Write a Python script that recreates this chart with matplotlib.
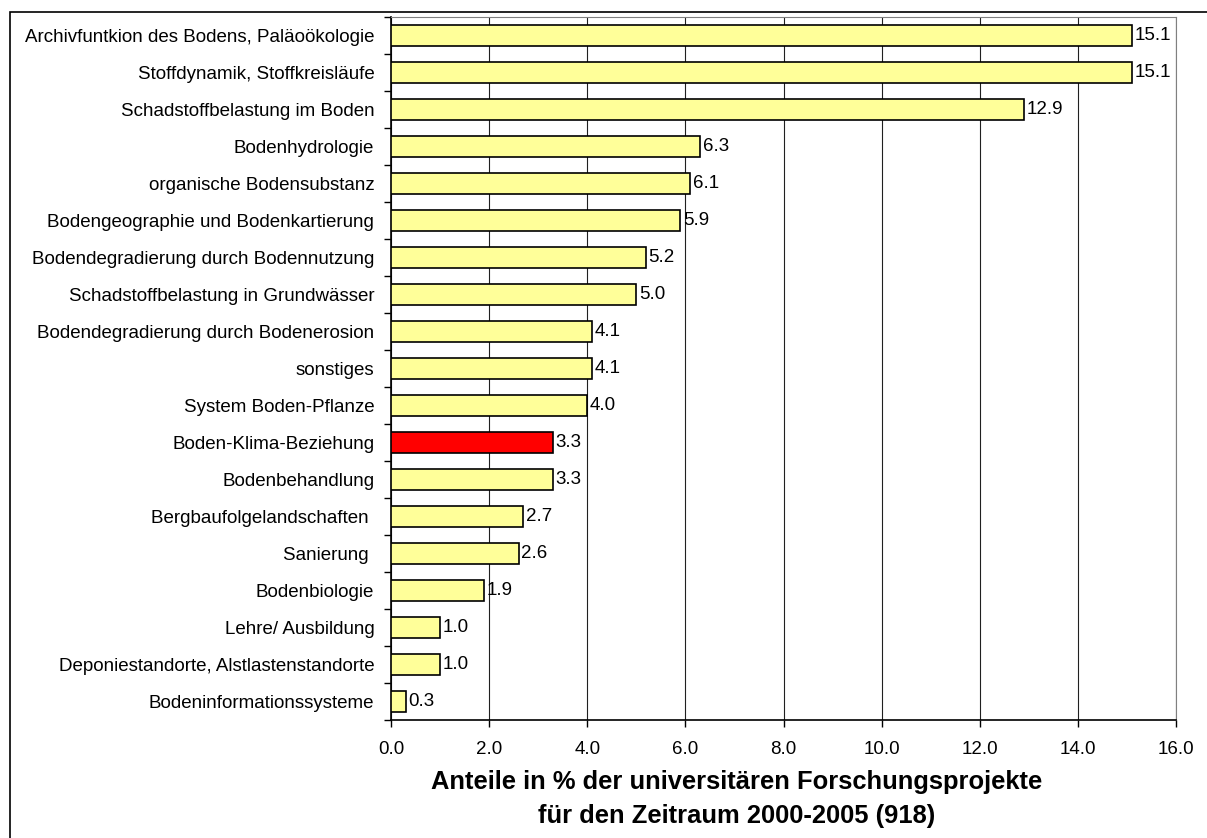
import matplotlib
matplotlib.use("Agg")
import matplotlib.pyplot as plt
from matplotlib.patches import Rectangle

plt.rcParams['font.family'] = ['Liberation Sans', 'DejaVu Sans']

themen = [
    "Archivfuntkion des Bodens, Paläoökologie",
    "Stoffdynamik, Stoffkreisläufe",
    "Schadstoffbelastung im Boden",
    "Bodenhydrologie",
    "organische Bodensubstanz",
    "Bodengeographie und Bodenkartierung",
    "Bodendegradierung durch Bodennutzung",
    "Schadstoffbelastung in Grundwässer",
    "Bodendegradierung durch Bodenerosion",
    "sonstiges",
    "System Boden-Pflanze",
    "Boden-Klima-Beziehung",
    "Bodenbehandlung",
    "Bergbaufolgelandschaften ",
    "Sanierung ",
    "Bodenbiologie",
    "Lehre/ Ausbildung",
    "Deponiestandorte, Alstlastenstandorte",
    "Bodeninformationssysteme",
]
anteile = [15.1, 15.1, 12.9, 6.3, 6.1, 5.9, 5.2, 5.0, 4.1, 4.1, 4.0, 3.3, 3.3, 2.7, 2.6, 1.9, 1.0, 1.0, 0.3]
hervorgehoben = "Boden-Klima-Beziehung"

fig = plt.figure(figsize=(12.07, 8.38), dpi=100)
ax = fig.add_axes([391 / 1207, 1 - 720 / 838, (1176 - 391) / 1207, (720 - 17) / 838])

farben = ['#ff0000' if t == hervorgehoben else '#ffff99' for t in themen]
pos = list(range(len(themen)))
ax.barh(pos, anteile, height=0.57, color=farben, edgecolor='black', linewidth=1.2, zorder=3)

for p, v in zip(pos, anteile):
    ax.text(v + 0.05, p, f"{v:.1f}", va='center', ha='left', fontsize=13.5, zorder=4)

ax.set_ylim(len(themen) - 0.5, -0.5)
ax.set_xlim(0, 16)
ax.set_xticks(range(0, 17, 2))
ax.set_xticklabels([f"{x:.1f}" for x in range(0, 17, 2)], fontsize=13.5)
ax.set_yticks([p - 0.5 for p in pos] + [len(themen) - 0.5])
ax.set_yticklabels([])
ax.set_yticks(pos, minor=True)
ax.set_yticklabels(themen, minor=True, fontsize=13.5)
ax.tick_params(axis='y', which='minor', length=0, pad=12)
ax.tick_params(axis='y', which='major', length=5, direction='out', width=1)
ax.tick_params(axis='x', length=5, direction='out', width=1, pad=10)

ax.grid(axis='x', color='#202020', linewidth=0.8, zorder=0)
ax.spines['left'].set_color('black')
ax.spines['bottom'].set_color('black')
ax.spines['left'].set_linewidth(1.2)
ax.spines['bottom'].set_linewidth(1.2)
ax.spines['top'].set_color('#808080')
ax.spines['right'].set_color('#808080')

fig.text(737 / 1207, 1 - 799 / 838,
         "Anteile in % der universitären Forschungsprojekte\nfür den Zeitraum 2000-2005 (918)",
         ha='center', va='center', fontsize=18.4, fontweight='bold', linespacing=1.5)

# Rahmen um das Diagramm
fig.patches.append(Rectangle((10 / 1207, -0.05), 1.2, 1 - 12 / 838 + 0.05,
                             transform=fig.transFigure, fill=False,
                             edgecolor='black', linewidth=1.2, clip_on=False))

fig.savefig("out.png", dpi=100)
